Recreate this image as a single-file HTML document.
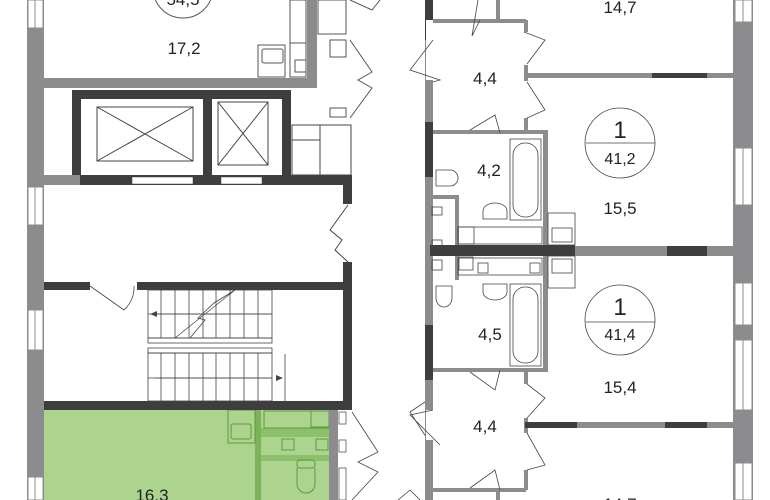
<!DOCTYPE html>
<html><head><style>
html,body{margin:0;padding:0;background:#fff;width:770px;height:500px;overflow:hidden}
svg{display:block}
text{font-family:"Liberation Sans",sans-serif;fill:#222}
</style></head><body>
<svg width="770" height="500" viewBox="0 0 770 500" xmlns="http://www.w3.org/2000/svg">
<!-- green unit -->
<rect x="44" y="410" width="286" height="90" fill="#acd48f"/>
<rect x="255" y="410" width="6" height="90" fill="#7cb35a"/>
<rect x="261" y="428" width="68" height="9" fill="#8cc06a"/>
<rect x="261" y="455" width="68" height="6" fill="#8cc06a"/>
<g fill="none" stroke="#5c9a3c" stroke-width="1">
<rect x="228" y="410" width="27" height="33"/><rect x="231" y="424" width="20" height="15" rx="2"/>
<rect x="264" y="411" width="65" height="17"/><rect x="311" y="411" width="18" height="16"/>
<rect x="282" y="439" width="12" height="11"/><rect x="316" y="439" width="12" height="11"/>
<rect x="297" y="460" width="18" height="8" rx="3"/><path d="M297 468 v16 a9 9 0 0 0 18 0 v-16"/>
</g>
<text x="152" y="501" font-size="17" text-anchor="middle">16,3</text>

<!-- left exterior wall -->
<rect x="27" y="0" width="17" height="500" fill="#8c8c8e"/>
<g fill="#fff" stroke="#8c8c8e" stroke-width="1">
<rect x="28" y="0" width="15" height="28"/><rect x="28" y="187" width="15" height="38"/>
<rect x="28" y="310" width="15" height="40"/><rect x="28" y="477" width="15" height="23"/>
</g>
<g stroke="#8c8c8e"><line x1="35" y1="0" x2="35" y2="28"/><line x1="35" y1="187" x2="35" y2="225"/><line x1="35" y1="310" x2="35" y2="350"/><line x1="35" y1="477" x2="35" y2="500"/></g>

<!-- top left room -->
<rect x="44" y="78" width="273" height="10" fill="#8c8c8e"/>
<rect x="307" y="0" width="10" height="88" fill="#8c8c8e"/>
<g fill="none" stroke="#555" stroke-width="1">
<rect x="290" y="0" width="16" height="43"/><rect x="290" y="43" width="16" height="34"/>
<rect x="295" y="60" width="11" height="12"/>
<rect x="258" y="45" width="27" height="32"/><rect x="262" y="49" width="21" height="14" rx="2"/>
<rect x="318" y="0" width="28" height="34"/><rect x="330" y="40" width="16" height="17"/>
<rect x="330" y="108" width="16" height="9"/>
<circle cx="183" cy="-12" r="30"/>
<polyline points="350,40 372,72 358,80 372,88 350,118"/>
<polyline points="350,0 372,10 380,0"/>
</g>
<text x="183" y="5" font-size="17" text-anchor="middle">54,5</text>
<text x="184" y="54" font-size="17" text-anchor="middle">17,2</text>

<!-- lift block -->
<rect x="44" y="175" width="36" height="10" fill="#8c8c8e"/>
<g fill="#3e3e3e">
<rect x="72" y="90" width="219" height="9"/><rect x="72" y="90" width="9" height="85"/>
<rect x="203" y="99" width="9" height="85"/><rect x="282" y="90" width="9" height="95"/>
<rect x="80" y="175" width="272" height="10"/><rect x="343" y="178" width="9" height="26"/>
</g>
<rect x="132" y="177" width="61" height="7" fill="#fff" stroke="#3e3e3e" stroke-width="0.5"/>
<rect x="221" y="177" width="41" height="7" fill="#fff" stroke="#3e3e3e" stroke-width="0.5"/>
<g fill="none" stroke="#444" stroke-width="1">
<rect x="97" y="107" width="96" height="54"/><path d="M97 107 L193 161 M193 107 L97 161"/>
<rect x="218" y="102" width="50" height="63"/><path d="M218 102 L268 165 M268 102 L218 165"/>
<rect x="292" y="125" width="59" height="50"/><rect x="292" y="125" width="28" height="50"/><rect x="292" y="140" width="28" height="35"/>
<polyline points="348,205 330,230 342,240 335,250 348,262"/>
</g>

<!-- stair hall -->
<g fill="#3e3e3e">
<rect x="44" y="282" width="46" height="8"/><rect x="137" y="282" width="215" height="8"/>
<rect x="343" y="262" width="9" height="148"/><rect x="44" y="401" width="308" height="9"/>
</g>
<g fill="none" stroke="#444" stroke-width="0.8">
<path d="M90 286 L124 310 M134 286 a30 30 0 0 1 -10 24"/>
<rect x="148" y="290" width="124" height="48"/><rect x="148" y="338" width="124" height="5"/>
<rect x="148" y="348" width="124" height="5"/><rect x="148" y="353" width="124" height="48"/>
<path d="M161 290v48M175 290v48M189 290v48M203 290v48M216 290v48M230 290v48M244 290v48M258 290v48"/>
<path d="M161 353v48M175 353v48M189 353v48M203 353v48M216 353v48M230 353v48M244 353v48M258 353v48"/>
<path d="M148 314h124M148 378h124M285 354v48"/>
<path d="M175 338 L235 290 M190 338 L205 320 L198 318 L214 303 L235 290"/>
<path d="M152 314 L272 314 M272 378 L155 378"/>
</g>
<path d="M150 314 l7 -3 v6z M283 378 l-7 -3 v6z" fill="#444"/>

<!-- corridor & walls right of green -->
<rect x="329" y="410" width="9" height="90" fill="#8c8c8e"/>
<g fill="#fff" stroke="#555" stroke-width="0.8">
<rect x="339" y="412" width="7" height="12"/><rect x="339" y="440" width="7" height="12"/><rect x="339" y="468" width="7" height="32"/>
</g>
<g fill="none" stroke="#444" stroke-width="0.8">
<polyline points="352,412 378,452 358,462 378,472 352,500"/>
<polyline points="398,500 410,490 420,500"/>
<polyline points="428,400 410,412 428,440"/>
</g>

<!-- right side -->
<rect x="425" y="0" width="8" height="500" fill="#8c8c8e"/>
<g fill="#3e3e3e">
<rect x="425" y="0" width="8" height="40"/><rect x="425" y="122" width="8" height="55"/>
<rect x="425" y="325" width="8" height="55"/>
</g>
<rect x="426" y="20" width="7" height="60" fill="#fff"/>
<rect x="426" y="410" width="7" height="30" fill="#fff"/>
<rect x="733" y="0" width="20" height="500" fill="#8c8c8e"/>
<g fill="#fff" stroke="#8c8c8e" stroke-width="1">
<rect x="735" y="0" width="17" height="22"/><rect x="735" y="148" width="17" height="57"/>
<rect x="735" y="283" width="17" height="42"/><rect x="735" y="340" width="17" height="70"/>
<rect x="735" y="463" width="17" height="37"/>
</g>
<g stroke="#8c8c8e"><line x1="743" y1="0" x2="743" y2="22"/><line x1="743" y1="148" x2="743" y2="205"/><line x1="743" y1="283" x2="743" y2="325"/><line x1="743" y1="340" x2="743" y2="410"/><line x1="743" y1="463" x2="743" y2="500"/></g>

<g fill="#8c8c8e">
<rect x="433" y="19" width="93" height="4"/><rect x="496" y="0" width="4" height="20"/>
<rect x="524" y="20" width="4" height="12"/><rect x="524" y="65" width="4" height="16"/><rect x="524" y="118" width="4" height="14"/>
<rect x="526" y="73" width="209" height="5"/>
<rect x="433" y="130" width="115" height="4"/><rect x="543" y="130" width="5" height="240"/>
<rect x="433" y="195" width="25" height="4"/><rect x="455" y="195" width="4" height="85"/>
<rect x="575" y="246" width="160" height="10"/>
<rect x="433" y="368" width="115" height="4"/>
<rect x="524" y="370" width="4" height="14"/><rect x="524" y="418" width="4" height="15"/><rect x="524" y="470" width="4" height="20"/>
<rect x="526" y="422" width="209" height="6"/>
<rect x="433" y="488" width="93" height="4"/><rect x="496" y="490" width="4" height="10"/>
</g>
<g fill="#3e3e3e">
<rect x="652" y="73" width="55" height="5"/><rect x="430" y="245" width="145" height="11"/>
<rect x="667" y="246" width="40" height="10"/><rect x="525" y="422" width="52" height="6"/><rect x="665" y="422" width="42" height="6"/>
</g>
<g fill="none" stroke="#444" stroke-width="0.8">
<polyline points="433,40 410,70 440,80 433,82"/>
<polyline points="480,20 472,36 478,0"/>
<polyline points="524,32 545,40 527,64"/>
<polyline points="527,82 545,110 527,118"/>
<polyline points="470,130 495,115 500,133"/>
<polyline points="433,410 410,415 440,445"/>
<polyline points="470,372 495,390 500,370"/>
<polyline points="527,384 545,398 527,418"/>
<polyline points="527,433 545,465 527,470"/>
<polyline points="470,488 495,470 500,490"/>
<rect x="510" y="139" width="31" height="81"/><rect x="513" y="143" width="25" height="74" rx="12"/>
<rect x="510" y="284" width="31" height="82"/><rect x="513" y="287" width="25" height="76" rx="12"/>
<path d="M483 219 v-8 a12 8 0 0 1 24 0 v8z"/><path d="M483 284 v8 a12 8 0 0 0 24 0 v-8z"/>
<path d="M436 170 h14 a8 8 0 0 1 0 16 h-14z"/><path d="M452 286 v12 a8 9 0 0 1 -16 0 v-12z"/>
<rect x="458" y="227" width="84" height="17"/><rect x="458" y="227" width="16" height="17"/>
<rect x="458" y="258" width="84" height="17"/>
<rect x="432" y="207" width="10" height="8"/><rect x="432" y="240" width="10" height="8"/><rect x="432" y="260" width="10" height="10"/>
<rect x="459" y="257" width="14" height="13"/><rect x="478" y="263" width="10" height="10"/><rect x="530" y="263" width="10" height="10"/>
<rect x="548" y="213" width="27" height="32"/><rect x="552" y="228" width="20" height="14"/>
<rect x="548" y="256" width="27" height="32"/><rect x="552" y="259" width="20" height="14"/>
<circle cx="620" cy="143" r="35"/><line x1="586" y1="143" x2="655" y2="143"/>
<circle cx="620" cy="320" r="35"/><line x1="586" y1="322" x2="655" y2="322"/>
</g>
<text x="620" y="138" font-size="24" text-anchor="middle">1</text>
<text x="620" y="164" font-size="16" text-anchor="middle">41,2</text>
<text x="620" y="315" font-size="24" text-anchor="middle">1</text>
<text x="620" y="340" font-size="16" text-anchor="middle">41,4</text>
<text x="620" y="13" font-size="17" text-anchor="middle">14,7</text>
<text x="485" y="84" font-size="17" text-anchor="middle">4,4</text>
<text x="489" y="176" font-size="17" text-anchor="middle">4,2</text>
<text x="620" y="214" font-size="17" text-anchor="middle">15,5</text>
<text x="490" y="340" font-size="17" text-anchor="middle">4,5</text>
<text x="620" y="393" font-size="17" text-anchor="middle">15,4</text>
<text x="485" y="432" font-size="17" text-anchor="middle">4,4</text>
<text x="620" y="510" font-size="17" text-anchor="middle">14,7</text>
</svg>
</body></html>
